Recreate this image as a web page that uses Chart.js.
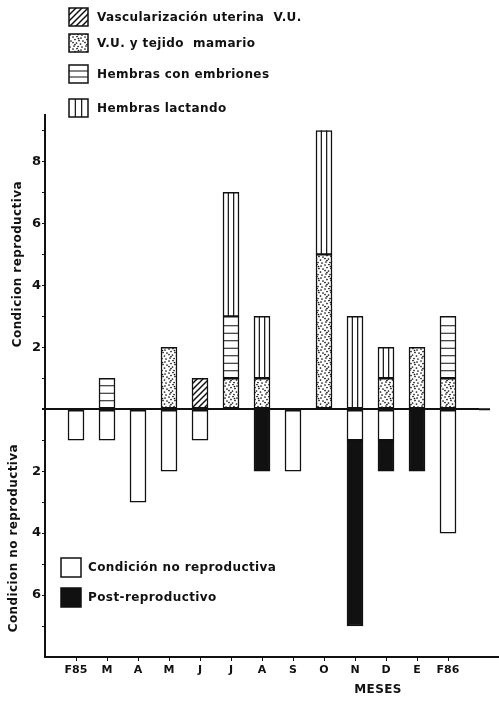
<!DOCTYPE html>
<html>
<head>
<meta charset="utf-8">
<script src="https://cdn.jsdelivr.net/npm/chart.js@4/dist/chart.umd.min.js"></script>
<style>
  body { margin: 0; background: #fff; }
  #wrap { width: 499px; height: 704px; position: relative; }
</style>
</head>
<body>
<div id="wrap"><canvas id="myChart"></canvas></div>
<script>
// months (F85 .. F86)
var months = ["F85", "M", "A", "M", "J", "J", "A", "S", "O", "N", "D", "E", "F86"];

// reproductive condition (counts, upward)
var vascularizacion = [0, 0, 0, 0, 1, 0, 0, 0, 0, 0, 0, 0, 0];
var tejidoMamario   = [0, 0, 0, 2, 0, 1, 1, 0, 5, 0, 1, 2, 1];
var conEmbriones    = [0, 1, 0, 0, 0, 2, 0, 0, 0, 0, 0, 0, 2];
var lactando        = [0, 0, 0, 0, 0, 4, 2, 0, 4, 3, 1, 0, 0];

// non reproductive condition (counts, drawn downward)
var noReproductiva  = [1, 1, 3, 2, 1, 0, 0, 2, 0, 1, 1, 0, 4];
var postReproductivo = [0, 0, 0, 0, 0, 0, 2, 0, 0, 6, 1, 2, 0];

var yTicks = [-7, -6, -5, -4, -3, -2, -1, 0, 1, 2, 3, 4, 5, 6, 7, 8, 9];

var INK = '#111';

// blank slot at each end so the month ticks sit like the original axis
var labels = [''].concat(months, ['']);
function up(arr) { return [null].concat(arr.map(function (v) { return v || null; }), [null]); }
function down(arr) { return [null].concat(arr.map(function (v) { return v ? -v : null; }), [null]); }

// fill patterns
function makeTile(w, h, draw) {
    var c = document.createElement('canvas');
    c.width = w; c.height = h;
    var g = c.getContext('2d');
    g.fillStyle = '#fff';
    g.fillRect(0, 0, w, h);
    g.fillStyle = INK;
    g.strokeStyle = INK;
    draw(g);
    return g.createPattern(c, 'repeat');
}
var hatch = makeTile(6, 6, function (g) {
    g.lineWidth = 1.5;
    g.beginPath();
    g.moveTo(0, 6); g.lineTo(6, 0);
    g.moveTo(-1, 1); g.lineTo(1, -1);
    g.moveTo(5, 7); g.lineTo(7, 5);
    g.stroke();
});
// hand placed stipple dots
var dots = makeTile(12, 12, function (g) {
    [[1, 1], [5, 0.5], [9, 2], [3, 3.5], [7, 4.5], [11, 5], [1, 6.5], [4.5, 7],
     [8.5, 8], [2, 10], [6, 10.5], [10, 11], [6.5, 2.5], [3, 8.5]].forEach(function (p) {
        g.beginPath();
        g.arc(p[0], p[1], 0.85, 0, Math.PI * 2);
        g.fill();
    });
});

// line fills drawn inside each segment so they line up with the bar edges
function decorate(g, kind, left, top, right, bottom, step) {
    g.save();
    g.strokeStyle = INK;
    g.lineWidth = 1.2;
    g.beginPath();
    if (kind === 'vert') {
        var w = right - left;
        g.moveTo(left + w / 3, top); g.lineTo(left + w / 3, bottom);
        g.moveTo(left + 2 * w / 3, top); g.lineTo(left + 2 * w / 3, bottom);
    } else if (kind === 'horiz') {
        for (var y = bottom - step; y > top + 2; y -= step) {
            g.moveTo(left, y); g.lineTo(right, y);
        }
    }
    g.stroke();
    g.restore();
}

function swatch(g, fill, kind, x, y, w, h) {
    g.fillStyle = fill;
    g.fillRect(x, y, w, h);
    if (kind) decorate(g, kind, x, y, x + w, y + h, h / 3);
    g.strokeStyle = INK;
    g.lineWidth = 1.5;
    g.strokeRect(x, y, w, h);
}

var linesPlugin = {
    id: 'lines',
    afterDatasetsDraw: function (chart) {
        var g = chart.ctx;
        chart.data.datasets.forEach(function (ds, i) {
            if (!ds.kind) return;
            var meta = chart.getDatasetMeta(i);
            meta.data.forEach(function (el, j) {
                if (ds.data[j] == null) return;
                var p = el.getProps(['x', 'y', 'base', 'width'], true);
                var top = Math.min(p.y, p.base), bottom = Math.max(p.y, p.base);
                decorate(g, ds.kind, p.x - p.width / 2, top, p.x + p.width / 2, bottom, 7.5);
            });
        });
    },
    afterDraw: function (chart) {
        var g = chart.ctx;
        var area = chart.chartArea;
        var ys = chart.scales.y;
        var y0 = ys.getPixelForValue(0);
        g.save();
        g.strokeStyle = INK;
        g.lineWidth = 2;
        g.beginPath();
        g.moveTo(area.right, y0); g.lineTo(area.right + 11, y0);
        g.moveTo(area.right, area.bottom); g.lineTo(chart.width, area.bottom);
        g.stroke();

        g.fillStyle = INK;
        g.font = 'bold 12px "DejaVu Sans"';
        g.letterSpacing = '0.4px';
        g.textBaseline = 'middle';

        // axis titles
        g.save();
        g.translate(18, (area.top + y0) / 2 + 2);
        g.rotate(-Math.PI / 2);
        g.textAlign = 'center';
        g.fillText('Condicion reproductiva', 0, 0);
        g.restore();
        g.save();
        g.translate(14, (y0 + area.bottom) / 2 + 5);
        g.rotate(-Math.PI / 2);
        g.textAlign = 'center';
        g.fillText('Condicion no reproductiva', 0, 0);
        g.restore();
        g.textAlign = 'center';
        g.fillText('MESES', 378, 690);

        // legends
        g.textAlign = 'left';
        var top = [
            [hatch, null, 'Vascularización uterina  V.U.', 17],
            [dots, null, 'V.U. y tejido  mamario', 43],
            ['#fff', 'horiz', 'Hembras con embriones', 74],
            ['#fff', 'vert', 'Hembras lactando', 108]
        ];
        top.forEach(function (it) {
            swatch(g, it[0], it[1], 69, it[3] - 9, 19, 18);
            g.fillStyle = INK;
            g.fillText(it[2], 97, it[3] + 1);
        });
        var bottom = [
            ['#fff', 'Condición no reproductiva', 567],
            [INK, 'Post-reproductivo', 597]
        ];
        bottom.forEach(function (it) {
            swatch(g, it[0], null, 61, it[2] - 9, 20, 19);
            g.fillStyle = INK;
            g.fillText(it[1], 88, it[2] + 1);
        });
        g.restore();
    }
};

Chart.defaults.font.family = '"DejaVu Sans"';
Chart.defaults.font.weight = 'bold';
Chart.defaults.font.size = 11;
Chart.defaults.color = INK;

var common = { borderColor: INK, borderWidth: 1.5, borderSkipped: false, barThickness: 16, stack: 's' };

var ctx = document.getElementById('myChart').getContext('2d');
var myChart = new Chart(ctx, {
    type: 'bar',
    data: {
        labels: labels,
        datasets: [
            Object.assign({ label: 'Condición no reproductiva', data: down(noReproductiva), backgroundColor: '#fff' }, common),
            Object.assign({ label: 'Post-reproductivo', data: down(postReproductivo), backgroundColor: INK }, common),
            Object.assign({ label: 'Vascularización uterina V.U.', data: up(vascularizacion), backgroundColor: hatch }, common),
            Object.assign({ label: 'V.U. y tejido mamario', data: up(tejidoMamario), backgroundColor: dots }, common),
            Object.assign({ label: 'Hembras con embriones', data: up(conEmbriones), backgroundColor: '#fff', kind: 'horiz' }, common),
            Object.assign({ label: 'Hembras lactando', data: up(lactando), backgroundColor: '#fff', kind: 'vert' }, common)
        ]
    },
    options: {
        responsive: true,
        maintainAspectRatio: false,
        animation: false,
        layout: { padding: { top: 115, right: 20, bottom: 0, left: 0 } },
        plugins: { legend: { display: false }, tooltip: { enabled: false } },
        scales: {
            x: {
                stacked: true,
                offset: false,
                afterFit: function (s) { s.height = 47; },
                border: { color: INK, width: 2 },
                grid: {
                    offset: false,
                    drawOnChartArea: false,
                    tickLength: 4,
                    color: function (c) { return c.tick && c.tick.label ? INK : 'transparent'; }
                },
                ticks: { padding: 3, autoSkip: false, maxRotation: 0 }
            },
            y: {
                stacked: true,
                min: -8,
                max: 9.5,
                afterFit: function (s) { s.width = 45; },
                afterBuildTicks: function (s) { s.ticks = yTicks.map(function (v) { return { value: v }; }); },
                border: { color: INK, width: 2 },
                grid: {
                    tickLength: 3,
                    tickColor: INK,
                    color: function (c) { return c.tick && c.tick.value === 0 ? INK : 'transparent'; },
                    lineWidth: function (c) { return c.tick && c.tick.value === 0 ? 2 : 1; }
                },
                ticks: {
                    padding: 1,
                    font: { size: 13 },
                    callback: function (v) { return (v !== 0 && v % 2 === 0) ? Math.abs(v) : ''; }
                }
            }
        }
    },
    plugins: [linesPlugin]
});
</script>
</body>
</html>
